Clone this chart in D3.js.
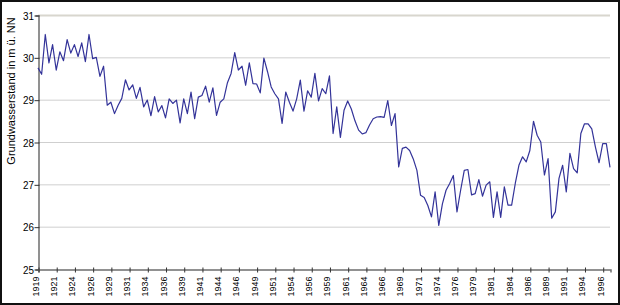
<!DOCTYPE html>
<html>
<head>
<meta charset="utf-8">
<script src="https://cdn.jsdelivr.net/npm/d3@7"></script>
<style>
    html, body { margin: 0; padding: 0; background: #fff; }
    svg text { font-family: "Liberation Sans", Arial, sans-serif; fill: #000; }
</style>
</head>
<body>
<div id="chart"></div>
<script>
/* jshint esversion: 6 */

// half-yearly readings, 1919 .. 1997 (two per year)
var startYear = 1919;
var readingsPerYear = 2;

var levels = [
    29.75, 29.60, 30.54, 29.87, 30.30, 29.70, 30.13, 29.92, 30.42, 30.10,
    30.30, 30.02, 30.34, 29.90, 30.54, 29.97, 30.00, 29.55, 29.79, 28.87,
    28.94, 28.67, 28.87, 29.03, 29.47, 29.23, 29.35, 29.03, 29.29, 28.83,
    28.99, 28.62, 29.07, 28.71, 28.86, 28.57, 29.02, 28.91, 28.99, 28.45,
    29.02, 28.67, 29.18, 28.55, 29.06, 29.10, 29.32, 28.94, 29.28, 28.63,
    28.94, 29.02, 29.40, 29.62, 30.11, 29.70, 29.79, 29.34, 29.87, 29.38,
    29.37, 29.16, 29.98, 29.66, 29.30, 29.14, 29.02, 28.44, 29.18, 28.94,
    28.73, 29.02, 29.46, 28.73, 29.21, 29.06, 29.62, 28.97, 29.26, 29.14,
    29.56, 28.20, 28.83, 28.11, 28.75, 28.97, 28.78, 28.50, 28.28, 28.19,
    28.22, 28.40, 28.55, 28.59, 28.60, 28.58, 28.98, 28.39, 28.67, 27.41,
    27.85, 27.88, 27.80, 27.60, 27.33, 26.74, 26.69, 26.50, 26.23, 26.82,
    26.03, 26.54, 26.86, 27.02, 27.21, 26.35, 26.86, 27.33, 27.35, 26.75,
    26.78, 27.11, 26.72, 26.98, 27.06, 26.22, 26.82, 26.22, 26.94, 26.51,
    26.51, 27.02, 27.45, 27.65, 27.53, 27.80, 28.49, 28.16, 28.00, 27.22,
    27.61, 26.20, 26.35, 27.14, 27.45, 26.82, 27.73, 27.37, 27.27, 28.20,
    28.43, 28.43, 28.31, 27.88, 27.51, 27.96, 27.96, 27.40
];

var yTicks = [25, 26, 27, 28, 29, 30, 31];

// every fifth reading gets a label
var tickEvery = 5;
var tickLabels = [
    1919, 1921, 1924, 1926, 1929, 1931, 1934, 1936, 1939, 1941, 1944,
    1946, 1949, 1951, 1954, 1956, 1959, 1961, 1964, 1966, 1969, 1971,
    1974, 1976, 1979, 1981, 1984, 1986, 1989, 1991, 1994, 1996
];

var yTitle = "Grundwasserstand in m ü. NN";

(function()
{
    "use strict";

    var W = 620, H = 305;
    var plot = { left: 38, right: 610, top: 15, bottom: 269 };

    // #########################################################################
    var svg = d3.select("#chart")
                .append("svg")
                .attr("width", W)
                .attr("height", H);

    svg.append("rect")
       .attr("x", 1).attr("y", 1)
       .attr("width", W - 2).attr("height", H - 2)
       .attr("fill", "#fff")
       .attr("stroke", "#111")
       .attr("stroke-width", 2);
    // #########################################################################

    // #########################################################################
    var xScale = d3.scaleLinear()
                   .domain([0, levels.length - 1])
                   .range([plot.left, plot.right]);

    var yScale = d3.scaleLinear()
                   .domain([25, 31])
                   .range([plot.bottom, plot.top]);
    // #########################################################################

    // gridlines
    svg.append("g")
       .selectAll("line")
       .data(yTicks.filter((d) => d > 25))
       .enter()
       .append("line")
       .attr("x1", plot.left)
       .attr("x2", plot.right)
       .attr("y1", (d) => yScale(d) + 0.5)
       .attr("y2", (d) => yScale(d) + 0.5)
       .attr("stroke", (d) => d === 31 ? "#d8d6ce" : "#cfcfcf")
       .attr("stroke-width", (d) => d === 31 ? 2 : 1);

    // #########################################################################
    // y axis
    var yAxis = d3.axisLeft(yScale)
                  .tickValues(yTicks)
                  .tickSize(3)
                  .tickPadding(3)
                  .tickFormat(d3.format("d"));

    var gy = svg.append("g")
                .attr("transform", `translate(${plot.left + 0.5},0.5)`)
                .call(yAxis);

    gy.select(".domain").attr("stroke", "#6e6e6e").attr("stroke-width", 1.5);
    gy.selectAll(".tick line").attr("stroke", "#333").attr("x2", -4).attr("x1", 1);
    gy.selectAll(".tick text")
      .attr("font-size", 11)
      .attr("x", -5)
      .attr("transform", "scale(0.9,1)")
      .attr("text-anchor", "end");
    // #########################################################################

    // #########################################################################
    // x axis (category axis, one tick every fifth reading)
    var tickIdx = tickLabels.map((d, i) => i * tickEvery);

    var xAxis = d3.axisBottom(xScale)
                  .tickValues(tickIdx)
                  .tickSize(3)
                  .tickFormat((d, i) => tickLabels[i]);

    var gx = svg.append("g")
                .attr("transform", `translate(0.5,${plot.bottom + 0.5})`)
                .call(xAxis);

    gx.select(".domain").attr("stroke", "#6e6e6e").attr("stroke-width", 1.5);
    gx.selectAll(".tick line").attr("stroke", "#333").attr("y1", -2).attr("y2", 3);
    gx.selectAll(".tick text")
      .attr("font-size", 9)
      .attr("transform", "translate(0,7) rotate(-90)")
      .attr("x", 0)
      .attr("y", 0)
      .attr("dy", "0")
      .attr("text-anchor", "end");
    // #########################################################################

    // #########################################################################
    var line = d3.line()
                 .x((d, i) => xScale(i))
                 .y((d) => yScale(d));

    svg.append("path")
       .datum(levels)
       .attr("d", line)
       .attr("fill", "none")
       .attr("stroke", "#333399")
       .attr("stroke-width", 1.2)
       .attr("stroke-linejoin", "round");
    // #########################################################################

    svg.append("text")
       .attr("transform", "translate(15,91) rotate(-90)")
       .attr("text-anchor", "middle")
       .attr("font-size", 11)
       .text(yTitle);
}
)();
</script>
</body>
</html>
